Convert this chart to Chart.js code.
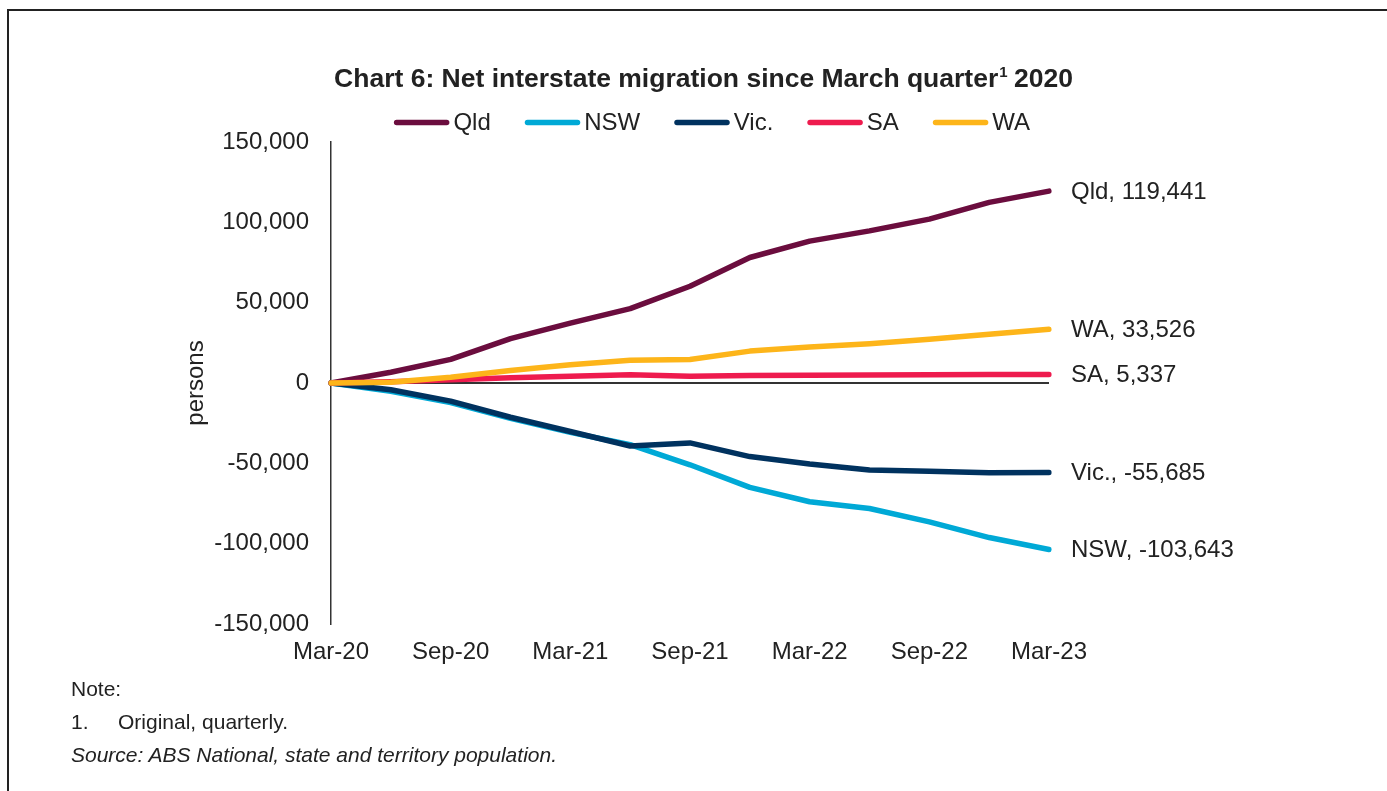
<!DOCTYPE html>
<html>

<head>
    <title>Net interstate migration since March quarter 2020</title>
    <script src="https://cdn.jsdelivr.net/npm/chart.js@4.4.1/dist/chart.umd.min.js"></script>
    <style>
        body { margin: 0; background: #fff; font-family: "Liberation Sans", Arial, sans-serif; color: #222; }
        #frame { position: absolute; left: 7px; top: 9px; width: 1400px; height: 800px; border-top: 2px solid #222; border-left: 2px solid #222; }
        #chart { position: absolute; left: 0; top: 0; }
        .note { position: absolute; left: 71px; font-size: 21px; line-height: 24px; white-space: nowrap; }
        .note .num { display: inline-block; width: 47px; }
    </style>
</head>

<body>
    <div id="frame"></div>
    <canvas id="chart" width="1387" height="791"></canvas>
    <div class="note" style="top:677px;">Note:</div>
    <div class="note" style="top:710px;"><span class="num">1.</span>Original, quarterly.</div>
    <div class="note" style="top:743px;"><i>Source: ABS National, state and territory population.</i></div>

    <script>
        // Cumulative net interstate migration (persons), quarterly from Mar-20
        var quarters = ['Mar-20', 'Jun-20', 'Sep-20', 'Dec-20', 'Mar-21', 'Jun-21', 'Sep-21',
            'Dec-21', 'Mar-22', 'Jun-22', 'Sep-22', 'Dec-22', 'Mar-23'];
        var qld = [0, 6700, 14700, 27600, 37300, 46300, 60200, 78100, 88300, 94700, 102000, 112400, 119441];
        var nsw = [0, -5100, -12200, -22000, -30700, -38400, -50900, -65000, -73900, -78100, -86400, -96200, -103643];
        var vic = [0, -4200, -11300, -21300, -30200, -39200, -37300, -45800, -50400, -54100, -55000, -55800, -55685];
        var sa = [0, 750, 2000, 3200, 4200, 5200, 4200, 4600, 4800, 5000, 5200, 5300, 5337];
        var wa = [0, 500, 3600, 7800, 11350, 14200, 14650, 19850, 22350, 24450, 27300, 30400, 33526];

        var stateNames = ['Qld', 'NSW', 'Vic.', 'SA', 'WA'];
        var stateColours = ['#6b0d3e', '#00a9d6', '#00325f', '#ee1b4e', '#fdb51a'];
        var yMin = -150000, yMax = 150000, yStep = 50000;

        var FONT = '"Liberation Sans", Arial, sans-serif';
        var TEXT = '#222';

        function fmt(v) {
            return v.toLocaleString('en-US');
        }

        // title with a superscript footnote marker, plus a line-style legend under it
        var headerPlugin = {
            id: 'header',
            afterDraw: function (chart) {
                var ctx = chart.ctx;
                ctx.save();
                ctx.fillStyle = TEXT;
                ctx.textBaseline = 'middle';
                ctx.textAlign = 'left';

                var main = 'Chart 6: Net interstate migration since March quarter';
                var tail = ' 2020';
                ctx.font = 'bold 26.5px ' + FONT;
                var w1 = ctx.measureText(main).width;
                var w3 = ctx.measureText(tail).width;
                ctx.font = 'bold 15px ' + FONT;
                var w2 = ctx.measureText('1').width;
                var x = 703.5 - (w1 + w2 + w3) / 2;
                var y = 80;
                ctx.font = 'bold 26.5px ' + FONT;
                ctx.fillText(main, x, y);
                ctx.font = 'bold 15px ' + FONT;
                ctx.fillText('1', x + w1 + 1, y - 7);
                ctx.font = 'bold 26.5px ' + FONT;
                ctx.fillText(tail, x + w1 + w2, y);

                // legend
                ctx.font = '24px ' + FONT;
                var lineLen = 50, lineW = 5.5, gap = 4, spacing = 34;
                var items = chart.data.datasets.map(function (ds) {
                    return { label: ds.label, colour: ds.borderColor, w: ctx.measureText(ds.label).width };
                });
                var total = 0;
                items.forEach(function (it, i) {
                    total += lineW + lineLen + gap + it.w + (i < items.length - 1 ? spacing : 0);
                });
                var lx = 712 - total / 2;
                var ly = 122.5;
                items.forEach(function (it) {
                    ctx.strokeStyle = it.colour;
                    ctx.lineWidth = lineW;
                    ctx.lineCap = 'round';
                    ctx.beginPath();
                    ctx.moveTo(lx + lineW / 2, ly);
                    ctx.lineTo(lx + lineW / 2 + lineLen, ly);
                    ctx.stroke();
                    ctx.fillText(it.label, lx + lineW + lineLen + gap, ly + 1);
                    lx += lineW + lineLen + gap + it.w + spacing;
                });
                ctx.restore();
            }
        };

        // "State, value" label at the end of each line
        var endLabelPlugin = {
            id: 'endLabels',
            afterDatasetsDraw: function (chart) {
                var ctx = chart.ctx;
                ctx.save();
                ctx.font = '24px ' + FONT;
                ctx.fillStyle = TEXT;
                ctx.textBaseline = 'middle';
                ctx.textAlign = 'left';
                chart.data.datasets.forEach(function (ds, i) {
                    var meta = chart.getDatasetMeta(i);
                    var last = meta.data.length - 1;
                    var pt = meta.data[last];
                    ctx.fillText(ds.label + ', ' + fmt(ds.data[last]), pt.x + 22, pt.y + 1);
                });
                ctx.restore();
            }
        };

        var series = [qld, nsw, vic, sa, wa];
        var datasets = series.map(function (values, i) {
            return {
                label: stateNames[i],
                data: values,
                borderColor: stateColours[i],
                backgroundColor: stateColours[i],
                borderWidth: 5.5,
                borderJoinStyle: 'round',
                borderCapStyle: 'round',
                pointRadius: 0,
                tension: 0,
                order: series.length - i   // later states drawn on top
            };
        });

        new Chart(document.getElementById('chart'), {
            type: 'line',
            data: { labels: quarters, datasets: datasets },
            options: {
                responsive: false,
                animation: false,
                layout: { padding: { left: 170, right: 338, top: 142, bottom: 122 } },
                plugins: {
                    legend: { display: false },
                    title: { display: false },
                    tooltip: { enabled: false }
                },
                scales: {
                    x: {
                        grid: { display: false, drawTicks: false },
                        border: { display: false },
                        ticks: {
                            autoSkip: false,
                            maxRotation: 0,
                            padding: 14,
                            color: TEXT,
                            font: { family: FONT, size: 24 },
                            callback: function (v, i) { return i % 2 === 0 ? quarters[i] : ''; }
                        },
                        afterFit: function (s) { s.height = 45; }
                    },
                    y: {
                        min: yMin,
                        max: yMax,
                        grid: {
                            drawTicks: false,
                            lineWidth: 2,
                            color: function (c) { return c.tick && c.tick.value === 0 ? '#333' : 'rgba(0,0,0,0)'; }
                        },
                        border: { color: '#333', width: 1.5 },
                        ticks: {
                            stepSize: yStep,
                            padding: 22,
                            color: TEXT,
                            font: { family: FONT, size: 24 },
                            callback: function (v) { return fmt(v); }
                        },
                        title: {
                            display: true,
                            text: 'persons',
                            color: TEXT,
                            font: { family: FONT, size: 24 },
                            padding: { top: 12, bottom: 0 }
                        },
                        afterFit: function (s) { s.width = 161; }
                    }
                }
            },
            plugins: [headerPlugin, endLabelPlugin]
        });
    </script>
</body>

</html>
